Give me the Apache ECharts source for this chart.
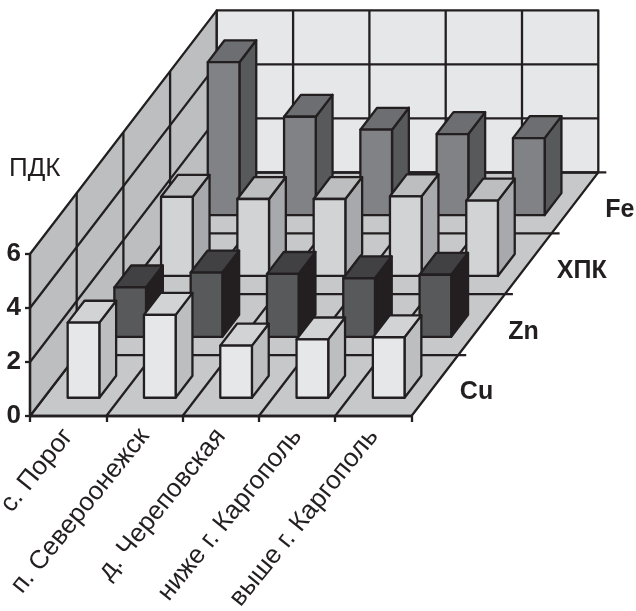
<!DOCTYPE html>
<html>
<head>
<meta charset="utf-8">
<title>ПДК</title>
<script src="https://cdn.jsdelivr.net/npm/echarts@6/dist/echarts.min.js"></script>
<style>
	html, body { margin: 0; padding: 0; background: #fff; }
	#chart { width: 636px; height: 611px; }
</style>
</head>
<body>
<div id="chart"></div>
<script>
	const categories = ['с. Порог', 'п. Североонежск', 'д. Череповская', 'ниже г. Каргополь', 'выше г. Каргополь']
	const seriesNames = ['Cu', 'Zn', 'ХПК', 'Fe']
	const cu = [2.78, 3.07, 1.93, 2.16, 2.24]
	const zn = [1.83, 2.38, 2.33, 2.17, 2.3]
	const chpk = [2.93, 2.85, 2.85, 2.95, 2.79]
	const fe = [5.66, 3.64, 3.16, 3.0, 2.85]
	const valueTicks = [0, 2, 4, 6]

	// сдвиг на экране на один ряд в глубину
	const depthDx = 46.7
	const depthDy = -60.9
	const ink = '#231f20'
	const lineW = 2.3
	const font = '"Liberation Sans", Arial, sans-serif'

	// front, top, side
	const barColors = [
		['#e6e7e9', '#d1d3d4', '#bcbec0'],
		['#58595b', '#414042', '#231f20'],
		['#d1d3d4', '#bcbec0', '#a7a9ac'],
		['#808285', '#6d6e71', '#58595b'],
	]

	const poly = (points, fill) => ({
		type: 'polygon',
		shape: { points: points },
		style: { fill: fill, stroke: ink, lineWidth: lineW, lineJoin: 'round' },
	})
	const line = (a, b) => ({
		type: 'line',
		shape: { x1: a[0], y1: a[1], x2: b[0], y2: b[1] },
		style: { stroke: ink, lineWidth: lineW, fill: null },
	})
	const shift = (p, d) => [p[0] + d * depthDx, p[1] + d * depthDy]

	// стенки и пол
	function renderFrame(params, api) {
		const band = api.size([1, 0])[0]
		const n = categories.length
		const depth = seriesNames.length
		const o = api.coord([0, 0])
		const x0 = o[0] - band / 2
		const top = api.coord([0, 6])[1]
		const bottom = o[1]
		const fl = [x0, bottom]
		const fr = [x0 + band * n, bottom]
		const tl = [x0, top]
		const tr = [x0 + band * n, top]
		const items = [
			poly([fl, fr, shift(fr, depth), shift(fl, depth)], '#c7c8ca'),
			poly([fl, shift(fl, depth), shift(tl, depth), tl], '#bcbec0'),
			poly([shift(fl, depth), shift(fr, depth), shift(tr, depth), shift(tl, depth)], '#e6e7e8'),
		]
		for (let i = 1; i < n; i++) {
			const a = [x0 + band * i, bottom]
			const b = [x0 + band * i, top]
			items.push(line(a, shift(a, depth)))
			items.push(line(shift(a, depth), shift(b, depth)))
		}
		valueTicks.slice(1, -1).forEach(v => {
			const y = api.coord([0, v])[1]
			const a = [x0, y]
			const b = [x0 + band * n, y]
			items.push(line(a, shift(a, depth)))
			items.push(line(shift(a, depth), shift(b, depth)))
		})
		for (let d = 1; d < depth; d++) {
			items.push(line(shift(fl, d), shift(tl, d)))
		}
		for (let d = 1; d <= depth; d++) {
			const end = shift(fr, d)
			items.push(line(shift(fl, d), [end[0] + 8, end[1]]))
		}
		seriesNames.forEach((name, d) => {
			const p = shift(fr, d + 0.5)
			items.push({
				type: 'text',
				style: {
					x: p[0] + 25 + d * 1.8, y: p[1] + 7, text: name, fill: ink,
					font: 'bold 25px ' + font, textAlign: 'left', textVerticalAlign: 'middle',
				},
			})
		})
		return { type: 'group', children: items }
	}

	// столбик: передняя грань, верх, бок
	function renderBar(d) {
		return function(params, api) {
			const band = api.size([1, 0])[0]
			const center = api.coord([api.value(0), 0])
			const yTop = api.coord([api.value(0), api.value(1)])[1]
			const left = center[0] - band / 2 + band * 0.31
			const right = left + band * 0.415
			const fbl = shift([left, center[1]], d + 0.3)
			const fbr = shift([right, center[1]], d + 0.3)
			const ftl = shift([left, yTop], d + 0.3)
			const ftr = shift([right, yTop], d + 0.3)
			const c = barColors[d]
			return {
				type: 'group',
				children: [
					poly([fbr, ftr, shift(ftr, 0.36), shift(fbr, 0.36)], c[2]),
					poly([ftl, ftr, shift(ftr, 0.36), shift(ftl, 0.36)], c[1]),
					poly([fbl, fbr, ftr, ftl], c[0]),
				],
			}
		}
	}

	const barSeries = (name, values, d) => ({
		name: name,
		type: 'custom',
		renderItem: renderBar(d),
		encode: { x: 0, y: 1 },
		data: values.map((v, i) => [i, v]),
		animation: false,
	})

	const chart = echarts.init(document.getElementById('chart'), null, { renderer: 'canvas' })
	chart.setOption({
		backgroundColor: '#fff',
		animation: false,
		textStyle: { fontFamily: font },
		title: {
			text: 'ПДК', left: 4, top: 151,
			textStyle: { fontSize: 26, fontWeight: 'normal', color: ink, fontFamily: font },
		},
		grid: { left: 30, top: 254, width: 381.5, height: 162, containLabel: false, outerBoundsMode: 'none' },
		xAxis: {
			type: 'category',
			data: categories,
			z: 5,
			axisLine: { lineStyle: { color: ink, width: lineW } },
			axisTick: { show: true, length: 6, lineStyle: { color: ink, width: lineW } },
			axisLabel: {
				interval: 0, rotate: 51, margin: 16, color: ink, fontSize: 26, fontFamily: font,
				hideOverlap: false,
			},
		},
		yAxis: {
			type: 'value',
			min: 0,
			max: 6,
			interval: 2,
			z: 5,
			splitLine: { show: false },
			axisLine: { show: true, lineStyle: { color: ink, width: lineW } },
			axisTick: { show: true, length: 5, lineStyle: { color: ink, width: lineW } },
			axisLabel: { margin: 9, color: ink, fontSize: 26, fontWeight: 'bold', fontFamily: font },
		},
		series: [
			{ name: 'frame', type: 'custom', renderItem: renderFrame, data: [[0, 0]], encode: { x: 0, y: 1 }, animation: false },
			barSeries('Fe', fe, 3),
			barSeries('ХПК', chpk, 2),
			barSeries('Zn', zn, 1),
			barSeries('Cu', cu, 0),
		],
	})
	window.onresize = function() {
		chart.resize()
	}
</script>
</body>
</html>
